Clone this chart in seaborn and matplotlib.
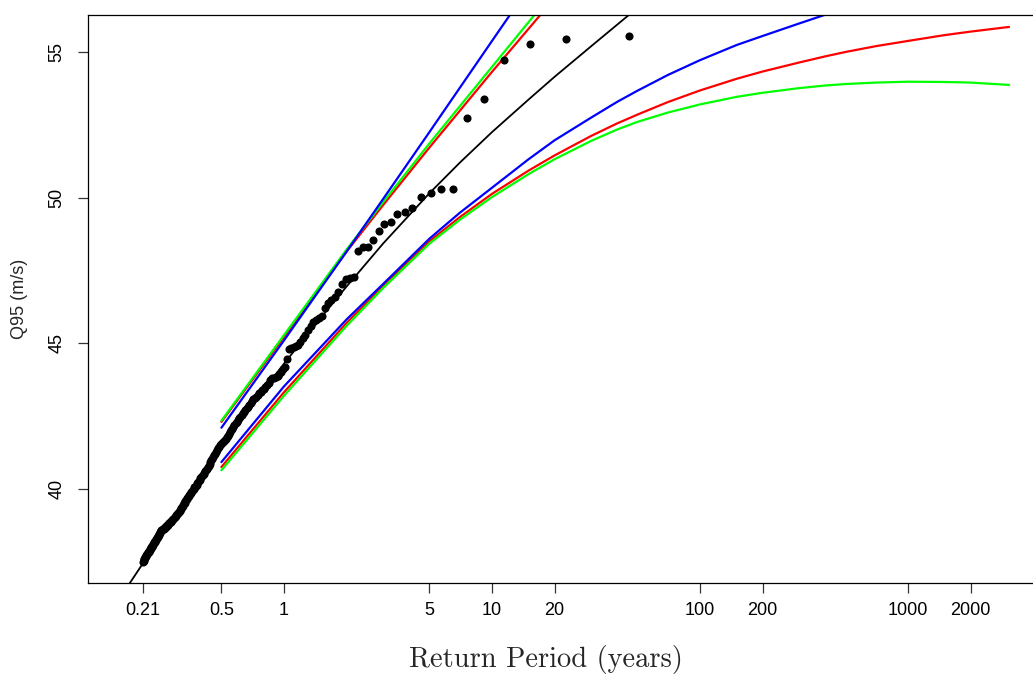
import numpy as np
import pandas as pd
import matplotlib
matplotlib.use("Agg")
import matplotlib.pyplot as plt
import seaborn as sns

# ---------------- data ----------------
# Observed Q95 values, sorted from largest (rank 1) to smallest
q95_sorted = [55.55, 55.45, 55.27, 54.73, 53.39, 52.74, 50.31, 50.28, 50.17, 50.03,
              49.66, 49.52, 49.45, 49.18, 49.11, 48.84, 48.56, 48.32, 48.29, 48.18,
              47.27, 47.24, 47.20, 47.05, 46.75, 46.58, 46.50, 46.37, 46.20, 45.95,
              45.87, 45.80, 45.72, 45.60, 45.47, 45.30, 45.17, 45.05, 44.95, 44.90,
              44.87, 44.85, 44.80, 44.45, 44.20, 44.10, 44.02, 43.95, 43.88, 43.84,
              43.82, 43.80, 43.75, 43.65, 43.56, 43.50, 43.44, 43.38, 43.33, 43.28,
              43.22, 43.17, 43.12, 43.07, 43.01, 42.95, 42.88, 42.82, 42.77, 42.71,
              42.65, 42.60, 42.54, 42.48, 42.43, 42.37, 42.31, 42.25, 42.19, 42.13,
              42.07, 42.01, 41.95, 41.89, 41.83, 41.78, 41.73, 41.69, 41.65, 41.61,
              41.57, 41.53, 41.50, 41.45, 41.40, 41.33, 41.26, 41.20, 41.15, 41.10,
              41.04, 40.98, 40.91, 40.85, 40.79, 40.74, 40.69, 40.65, 40.60, 40.56,
              40.52, 40.48, 40.44, 40.40, 40.36, 40.31, 40.27, 40.23, 40.19, 40.15,
              40.11, 40.08, 40.05, 40.01, 39.97, 39.94, 39.90, 39.87, 39.83, 39.79,
              39.76, 39.72, 39.69, 39.65, 39.61, 39.57, 39.53, 39.50, 39.46, 39.43,
              39.38, 39.35, 39.32, 39.28, 39.25, 39.22, 39.19, 39.16, 39.13, 39.10,
              39.07, 39.05, 39.03, 39.00, 38.98, 38.96, 38.94, 38.92, 38.90, 38.88,
              38.86, 38.84, 38.82, 38.80, 38.77, 38.75, 38.74, 38.72, 38.70, 38.69,
              38.67, 38.66, 38.64, 38.63, 38.62, 38.60, 38.58, 38.55, 38.52, 38.49,
              38.46, 38.43, 38.40, 38.37, 38.35, 38.32, 38.30, 38.27, 38.25, 38.22,
              38.19, 38.17, 38.14, 38.11, 38.08, 38.05, 38.02, 37.99, 37.96, 37.94,
              37.91, 37.89, 37.86, 37.84, 37.82, 37.80, 37.77, 37.75, 37.72, 37.70,
              37.68, 37.66, 37.63, 37.61, 37.58, 37.54, 37.50]
record_years = 45.6   # empirical return period = record_years / rank

# Fitted return-level curve (black)
fit_T = [0.17, 0.18, 0.21, 0.3, 0.5, 0.75, 1, 1.5, 2, 3, 5, 7, 10, 15, 20, 30, 46, 50]
fit_q = [36.47, 36.73, 37.45, 39.10, 41.50, 43.15, 44.30, 45.87, 46.95, 48.43,
         50.15, 51.20, 52.25, 53.37, 54.15, 55.20, 56.30, 56.50]

# Confidence bounds
upper_T = [0.5, 1, 2, 3, 5, 10, 20]
upper_red = [42.30, 45.22, 48.15, 49.75, 51.72, 54.32, 56.85]
upper_green = [42.34, 45.28, 48.22, 49.85, 51.86, 54.49, 57.12]
upper_blue = [42.10, 45.10, 48.15, 49.96, 52.25, 55.38, 58.50]

lower_T = [0.5, 1, 2, 3, 5, 7, 10, 15, 20, 30, 40, 50, 70, 100, 150, 200, 300,
           400, 500, 700, 1000, 1500, 2000, 3060]
lower_red = [40.75, 43.32, 45.70, 46.98, 48.50, 49.33, 50.13, 50.93, 51.45, 52.12,
             52.55, 52.85, 53.28, 53.68, 54.08, 54.33, 54.64, 54.85, 55.00, 55.20,
             55.38, 55.58, 55.70, 55.86]
lower_green = [40.64, 43.20, 45.60, 46.90, 48.42, 49.24, 50.02, 50.81, 51.32, 51.95,
               52.34, 52.60, 52.92, 53.20, 53.46, 53.60, 53.76, 53.85, 53.90, 53.95,
               53.98, 53.97, 53.95, 53.87]
lower_blue = [40.92, 43.52, 45.82, 47.04, 48.59, 49.48, 50.34, 51.32, 51.97, 52.75,
              53.29, 53.67, 54.21, 54.72, 55.24, 55.55, 55.98, 56.28, 56.50, 56.80,
              57.10, 57.40, 57.60, 57.90]

x_ticks = [0.21, 0.5, 1, 5, 10, 20, 100, 200, 1000, 2000]
x_tick_labels = ["0.21", "0.5", "1", "5", "10", "20", "100", "200", "1000", "2000"]
y_ticks = [40, 45, 50, 55]

# ---------------- plot ----------------
sns.set_theme(style="ticks")
plt.rcParams['font.family'] = ['Liberation Sans', 'DejaVu Sans']

W, H = 1033, 675
fig = plt.figure(figsize=(W / 100, H / 100), dpi=100)
ax = fig.add_axes([88 / W, 92 / H, 952 / W, 568 / H])

rank = np.arange(1, len(q95_sorted) + 1)
pts = pd.DataFrame({"T": record_years / rank, "Q95": q95_sorted})

lw = 1.6
for T, q, c in [(upper_T, upper_red, "#FF0000"), (lower_T, lower_red, "#FF0000"),
                (upper_T, upper_green, "#00FF00"), (lower_T, lower_green, "#00FF00"),
                (upper_T, upper_blue, "#0000FF"), (lower_T, lower_blue, "#0000FF")]:
    sns.lineplot(x=T, y=q, color=c, linewidth=lw, ax=ax, estimator=None, sort=False)

sns.lineplot(x=fit_T, y=fit_q, color="black", linewidth=1.3, ax=ax,
             estimator=None, sort=False)
sns.scatterplot(data=pts, x="T", y="Q95", color="black", s=34, linewidth=0,
                ax=ax, zorder=5)

ax.set_xscale("log")
ax.set_xlim(0.1142, 4310)
ax.set_ylim(36.77, 56.27)
ax.set_xticks(x_ticks)
ax.set_xticklabels(x_tick_labels)
ax.xaxis.set_minor_locator(matplotlib.ticker.NullLocator())
ax.set_yticks(y_ticks)
ax.set_yticklabels([str(v) for v in y_ticks], rotation=90, va="center")
ax.set_xlabel("")
ax.set_ylabel("")

for s in ["left", "top", "bottom", "right"]:
    ax.spines[s].set_color("black")
    ax.spines[s].set_linewidth(0.9)
ax.tick_params(axis="both", length=7, width=0.9, color="#333333",
               labelsize=13, labelcolor="black", direction="out")
ax.tick_params(axis="x", pad=7)
ax.tick_params(axis="y", pad=9)

fig.text(545.5 / W, 1 - 660 / H, "Return Period (years)", fontfamily="cmr10",
         fontsize=20.5, ha="center", va="center")
fig.text(20 / W, 1 - 299 / H, "Q95 (m/s)", rotation=90, ha="center",
         va="center", fontsize=13)

fig.savefig("out.png", dpi=100)
